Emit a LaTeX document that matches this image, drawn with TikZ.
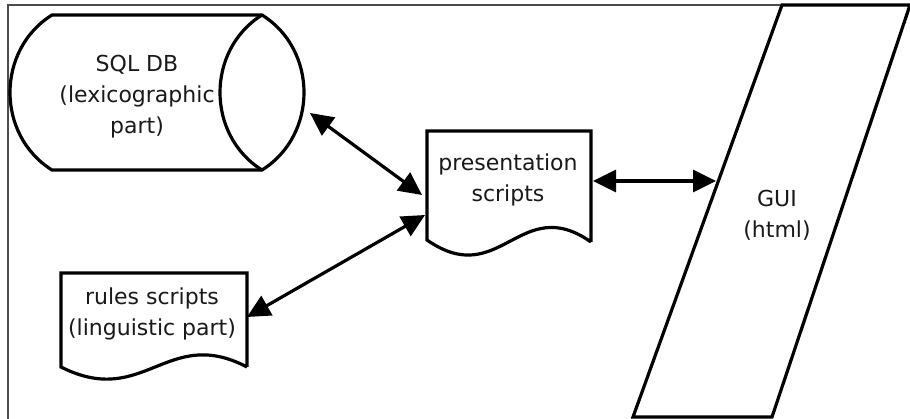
\documentclass[tikz,border=0pt]{standalone}
\usepackage{fontspec}
\setmainfont{DejaVu Sans}
\usetikzlibrary{arrows.meta}
\begin{document}
\begin{tikzpicture}[x=1pt,y=-1pt,
  shapeline/.style={draw=black,line width=3.2pt,line join=miter},
  frameline/.style={draw=black!70,line width=1.6pt},
  lbl/.style={align=center,text=black!90,inner sep=0pt,font=\fontsize{22}{31}\selectfont},
  conn/.style={line width=3.2pt,{Triangle[length=23pt,width=22pt]}-{Triangle[length=23pt,width=22pt]}}]
\useasboundingbox[fill=white] (0,0) rectangle (910,419);
% frame
\draw[frameline] (8,419) -- (8,5) -- (910,5);
% SQL DB (direct access storage)
\draw[shapeline] (52,15) -- (262,15) .. controls (318,50) and (318,135) .. (262,170) -- (52,170) .. controls (-4,135) and (-4,50) .. cycle;
\draw[shapeline] (262,15) .. controls (206,50) and (206,135) .. (262,170);
\node[lbl] (db) at (137,97) {SQL DB\\(lexicographic\\part)};
% presentation scripts (document)
\draw[shapeline] (591,242) -- (591,131) -- (427,131) -- (427,240) .. controls (500,291) and (520,192) .. (591,242);
\node[lbl] (ps) at (508,180) {presentation\\scripts};
% rules scripts (document)
\draw[shapeline] (247,367) -- (247,273) -- (61,273) -- (61,367) .. controls (144,409) and (167,325) .. (247,367);
\node[lbl] (rs) at (152,314) {rules scripts\\(linguistic part)};
% GUI (parallelogram)
\draw[shapeline] (782,5) -- (910,5) -- (772,417) -- (633,417) -- cycle;
\node[lbl] (gui) at (777,215) {GUI\\(html)};
% connector end points
\coordinate (dbE) at (310,113);
\coordinate (psW1) at (422,195);
\coordinate (psW2) at (425,215);
\coordinate (rsE) at (247,317);
\coordinate (psE) at (593,181);
\coordinate (guiW) at (716,181);
\draw[conn] (dbE) -- (psW1);
\draw[conn] (rsE) -- (psW2);
\draw[conn] (psE) -- (guiW);
\end{tikzpicture}
\end{document}
